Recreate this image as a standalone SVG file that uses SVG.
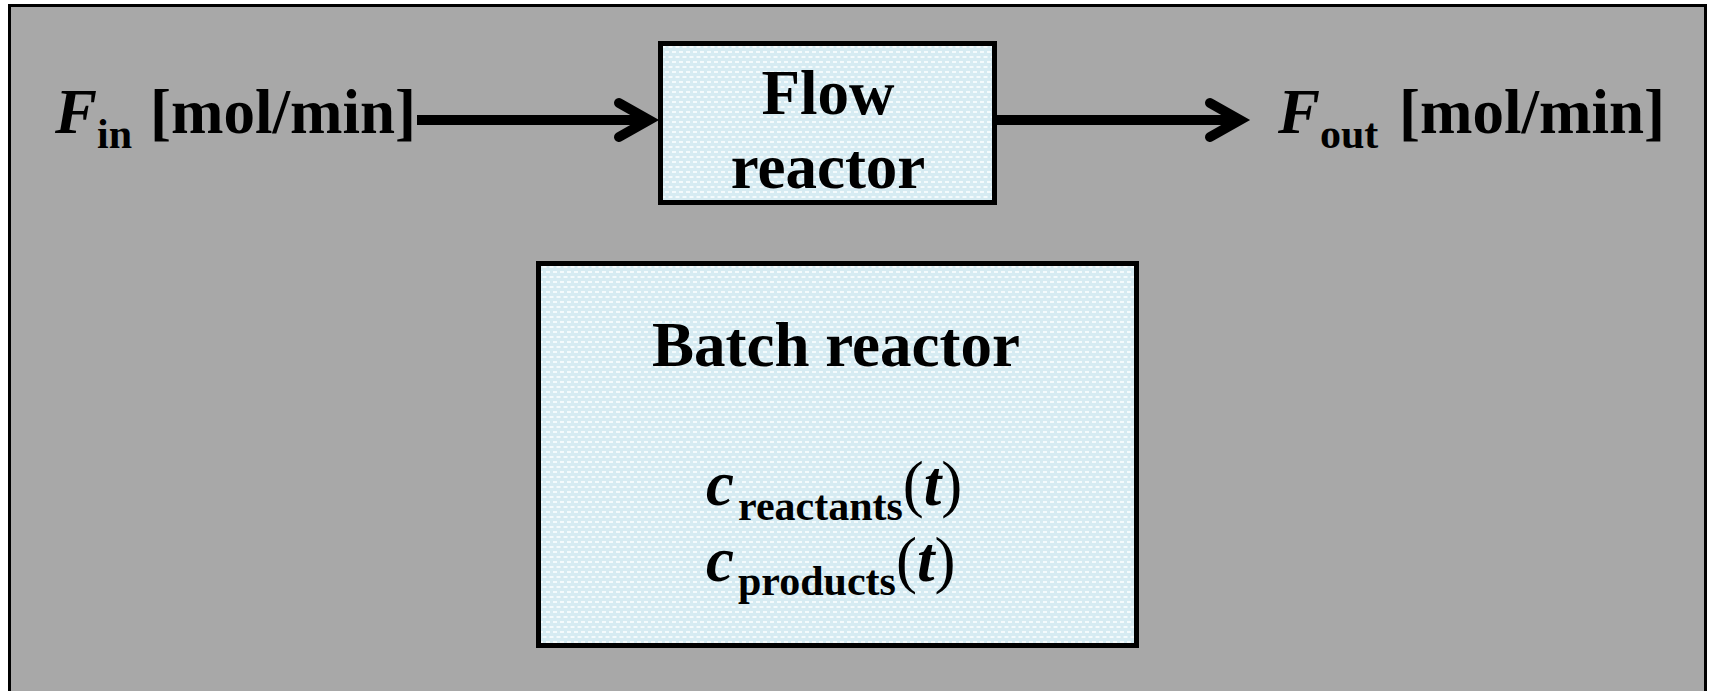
<svg xmlns="http://www.w3.org/2000/svg" width="1710" height="691" viewBox="0 0 1710 691">
<style>
.t{font-family:"Liberation Serif","Times New Roman",serif;font-weight:bold;fill:#000;font-size:63px}
.bi{font-style:italic}
.sub{font-size:42px}
.rg{font-weight:normal}
.box{fill:url(#dots);stroke:#000;stroke-width:5}
.conn{stroke:#000;stroke-width:10;fill:none}
</style>
<defs>
<pattern id="dots" width="7" height="10" patternUnits="userSpaceOnUse">
<rect width="7" height="10" fill="#d6ebf2"/>
<rect x="0" y="1" width="4" height="2" fill="#f4fafc"/>
<rect x="3.5" y="6" width="4" height="2" fill="#f4fafc"/>
<rect x="-3.5" y="6" width="4" height="2" fill="#f4fafc"/>
</pattern>
<marker id="chev" markerUnits="userSpaceOnUse" markerWidth="60" markerHeight="60" refX="0" refY="0" orient="auto" overflow="visible">
<path d="M-30,-17 L0,0 L-30,17" fill="none" stroke="#000" stroke-width="10" stroke-linecap="round" stroke-linejoin="miter"/>
</marker>
</defs>
<rect x="0" y="0" width="1710" height="691" fill="#fff"/>
<rect id="frame" x="9.5" y="5.5" width="1696" height="700" fill="#a8a8a8" stroke="#000" stroke-width="3"/>
<g id="connectors">
<line class="conn" x1="417" y1="120" x2="649" y2="120" marker-end="url(#chev)"/>
<line class="conn" x1="995" y1="120" x2="1240" y2="120" marker-end="url(#chev)"/>
</g>
<g id="fin">
<text class="t" y="133"><tspan x="55" class="bi">F</tspan><tspan x="97" y="148" class="sub">in</tspan><tspan x="150" y="133">[mol/min]</tspan></text>
</g>
<g id="fout">
<text class="t" y="133"><tspan x="1278" class="bi">F</tspan><tspan x="1320" y="148" class="sub">out</tspan><tspan x="1399" y="133">[mol/min]</tspan></text>
</g>
<g id="flow-reactor">
<rect class="box" x="660.5" y="43.5" width="334" height="159"/>
<text class="t" x="828" y="114" text-anchor="middle">Flow</text>
<text class="t" x="828" y="188" text-anchor="middle">reactor</text>
</g>
<g id="batch-reactor">
<rect class="box" x="538.5" y="263.5" width="598" height="382"/>
<text class="t" x="836" y="366" text-anchor="middle">Batch reactor</text>
<text class="t" y="505"><tspan x="706" class="bi">c</tspan><tspan class="sub" x="738" y="520">reactants</tspan><tspan class="rg" y="505">(</tspan><tspan class="bi">t</tspan><tspan class="rg">)</tspan></text>
<text class="t" y="581"><tspan x="706" class="bi">c</tspan><tspan class="sub" x="738" y="595">products</tspan><tspan class="rg" y="581">(</tspan><tspan class="bi">t</tspan><tspan class="rg">)</tspan></text>
</g>
</svg>
